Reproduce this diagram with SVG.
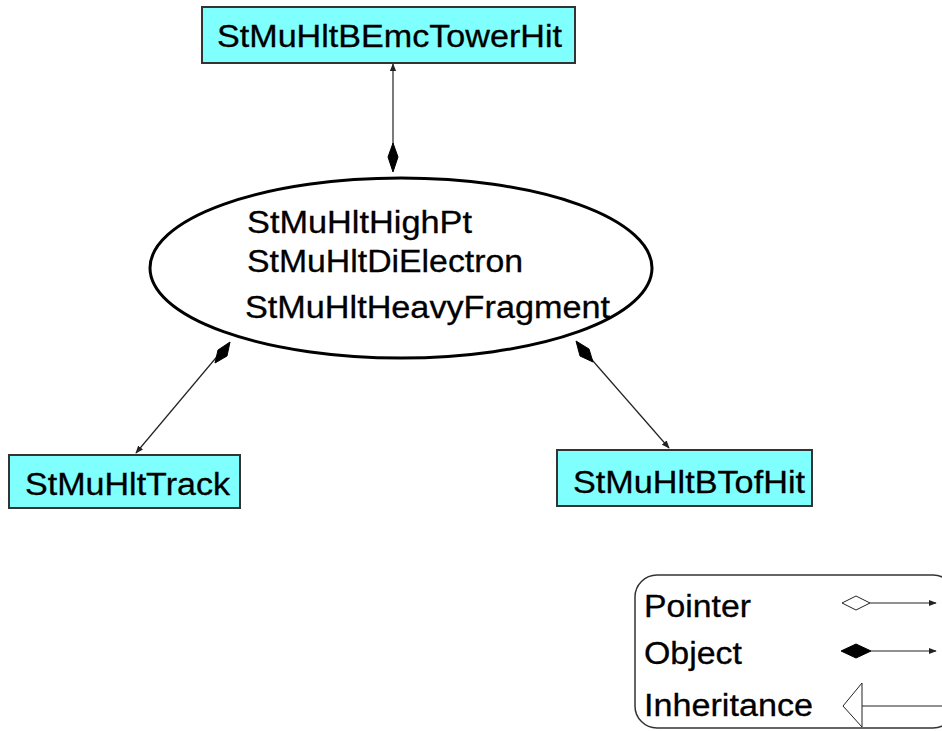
<svg xmlns="http://www.w3.org/2000/svg" width="942" height="731" viewBox="0 0 942 731">
<style>
text{font-family:"Liberation Sans",Arial,sans-serif;font-size:31px;fill:#000;stroke:#000;stroke-width:0.3}
.box{fill:#80FFFF;stroke:#333;stroke-width:2}
.ln{stroke:#222;stroke-width:1.2;fill:none}
.dia{fill:#000;stroke:#000;stroke-width:1}
</style>
<defs>
<marker id="arr" viewBox="0 0 10 10" refX="9" refY="5" markerWidth="8" markerHeight="8" markerUnits="userSpaceOnUse" orient="auto">
<path d="M0,1 L10,5 L0,9 z" fill="#222"/>
</marker>
</defs>
<rect width="942" height="731" fill="#fff"/>
<g id="connectors">
<line class="ln" x1="393" y1="145" x2="393" y2="64" marker-end="url(#arr)"/>
<path class="dia" d="M393,143 L398,157 L393,172 L388,157 z"/>
<line class="ln" x1="220" y1="353" x2="136" y2="453" marker-end="url(#arr)"/>
<path class="dia" d="M230,342 L227,356 L215,363 L218,350 z"/>
<line class="ln" x1="586" y1="353" x2="669" y2="448" marker-end="url(#arr)"/>
<path class="dia" d="M576,341 L589,349 L593,362 L580,356 z"/>
</g>
<g id="node-towerhit">
<rect class="box" x="202" y="7" width="373" height="56"/>
<text x="217" y="47" font-size="31" textLength="345" lengthAdjust="spacingAndGlyphs">StMuHltBEmcTowerHit</text>
</g>
<g id="node-center">
<ellipse cx="401" cy="268" rx="251" ry="90" fill="#fff" stroke="#000" stroke-width="3"/>
<text x="247" y="233" textLength="225" lengthAdjust="spacingAndGlyphs">StMuHltHighPt</text>
<text x="247" y="272" textLength="276" lengthAdjust="spacingAndGlyphs">StMuHltDiElectron</text>
<text x="245" y="318" textLength="365" lengthAdjust="spacingAndGlyphs">StMuHltHeavyFragment</text>
</g>
<g id="node-track">
<rect class="box" x="9" y="455" width="231" height="53"/>
<text x="25" y="495" font-size="32" textLength="205" lengthAdjust="spacingAndGlyphs">StMuHltTrack</text>
</g>
<g id="node-btofhit">
<rect class="box" x="557" y="450" width="255" height="56"/>
<text x="573" y="493" font-size="32" textLength="232" lengthAdjust="spacingAndGlyphs">StMuHltBTofHit</text>
</g>
<g id="legend">
<rect x="635" y="575" width="320" height="153" rx="22" fill="#fff" stroke="#333" stroke-width="1.5"/>
<text x="644" y="617" textLength="107" lengthAdjust="spacingAndGlyphs">Pointer</text>
<text x="644" y="664" textLength="98" lengthAdjust="spacingAndGlyphs">Object</text>
<text x="644" y="716" textLength="169" lengthAdjust="spacingAndGlyphs">Inheritance</text>
<path d="M842,603 L856,596 L870,603 L856,610 z" fill="#fff" stroke="#222" stroke-width="1"/>
<line class="ln" x1="870" y1="603" x2="936" y2="603" marker-end="url(#arr)"/>
<path class="dia" d="M841,651 L856,644 L871,651 L856,658 z"/>
<line class="ln" x1="871" y1="651" x2="936" y2="651" marker-end="url(#arr)"/>
<path d="M843,706 L862,683 L862,727 z" fill="#fff" stroke="#222" stroke-width="1"/>
<line class="ln" x1="862" y1="706" x2="942" y2="706"/>
</g>
</svg>
